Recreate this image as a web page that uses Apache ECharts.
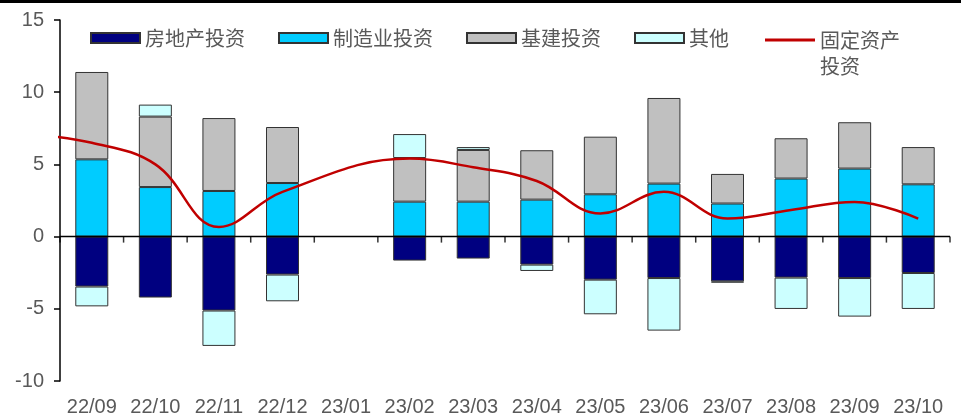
<!DOCTYPE html>
<html>
<head>
<meta charset="utf-8">
<script src="https://cdn.jsdelivr.net/npm/echarts@6/dist/echarts.min.js"></script>
<style>
html,body{margin:0;padding:0;background:#fff;}
#chart{width:961px;height:417px;}
</style>
</head>
<body>
<div id="chart"></div>
<script>
const categories = ['22/09','22/10','22/11','22/12','23/01','23/02','23/03','23/04','23/05','23/06','23/07','23/08','23/09','23/10'];
const realEstate = [-3.46,-4.22,-5.12,-2.63,null,-1.66,-1.52,-1.94,-2.98,-2.87,-3.10,-2.84,-2.87,-2.52];
const manufacturing = [5.35,3.43,3.16,3.71,null,2.42,2.42,2.56,2.93,3.67,2.29,4.02,4.71,3.62];
const infrastructure = [6.05,4.88,5.05,3.88,null,3.02,3.58,3.42,3.99,5.93,2.05,2.79,3.21,2.58];
const others = [-1.37,0.83,-2.45,-1.85,null,1.66,0.20,-0.44,-2.40,-3.64,-0.09,-2.17,-2.67,-2.49];
const fixedAsset = [6.50,5.00,0.67,3.10,null,5.40,4.80,3.85,1.60,3.10,1.25,1.85,2.40,1.25];
const fixedAssetPrior = 7.10; // 22/08, lies left of the plot and is clipped
const yTicks = {min:-10, max:15, step:5};

const names = ['房地产投资','制造业投资','基建投资','其他','固定资产投资'];
const colors = ['#000080','#00CCFF','#C0C0C0','#CCFFFF','#C00000'];

const lineData = [[-1, fixedAssetPrior]].concat(fixedAsset.map((v,i)=>[i, v]));
// category boundaries on the hidden value axis (-0.5 ... n-0.5), used for the zero axis and its ticks
const boundaries = categories.map((c,i)=>i-0.5).concat([categories.length-0.5]);

const labelColor = '#595959';
const barCommon = {type:'bar', stack:'total', barWidth:33, xAxisIndex:0, yAxisIndex:0};

const chart = echarts.init(document.getElementById('chart'), null, {renderer:'canvas'});
chart.setOption({
  animation:false,
  backgroundColor:'#fff',
  tooltip:{show:false},
  graphic:[{type:'rect', left:0, top:0, shape:{width:961, height:3}, style:{fill:'#000'}, silent:true}],
  grid:{left:60, right:11, top:20, bottom:36, containLabel:false},
  legend:[{
    left:90, top:28, padding:0, itemWidth:49, itemHeight:10, itemGap:33, icon:'rect',
    textStyle:{fontSize:20, color:labelColor, fontFamily:'Noto Sans CJK SC'},
    data:names.slice(0,4)
  },{
    left:765, top:1, padding:0, itemWidth:50, itemHeight:3, icon:'rect',
    textStyle:{fontSize:20, lineHeight:26, color:labelColor, fontFamily:'Noto Sans CJK SC'},
    formatter: n => '\n固定资产\n投资',
    data:[names[4]]
  }],
  xAxis:[
    {type:'category', data:categories, position:'bottom', boundaryGap:true,
     axisLine:{show:false, onZero:false}, axisTick:{show:false}, splitLine:{show:false},
     axisLabel:{show:true, interval:0, margin:16, fontSize:20, color:labelColor, fontFamily:'Liberation Sans, Arial'}},
    {type:'value', position:'top', min:-0.5, max:categories.length-0.5, show:false, axisLine:{onZero:false}}
  ],
  yAxis:{type:'value', min:yTicks.min, max:yTicks.max, interval:yTicks.step,
     axisLine:{show:true, onZero:false, lineStyle:{color:'#000', width:1.5}},
     axisTick:{show:true, length:6, lineStyle:{color:'#000', width:1.5}},
     splitLine:{show:false},
     axisLabel:{margin:16, fontSize:20, color:labelColor, fontFamily:'Liberation Sans, Arial'}},
  series:[
    Object.assign({}, barCommon, {name:names[0], data:realEstate, itemStyle:{color:colors[0], borderColor:'#333', borderWidth:1}}),
    Object.assign({}, barCommon, {name:names[1], data:manufacturing, itemStyle:{color:colors[1], borderColor:'#333', borderWidth:1}}),
    Object.assign({}, barCommon, {name:names[2], data:infrastructure, itemStyle:{color:colors[2], borderColor:'#333', borderWidth:1}}),
    Object.assign({}, barCommon, {name:names[3], data:others, itemStyle:{color:colors[3], borderColor:'#333', borderWidth:1}}),
    {name:names[4], type:'line', xAxisIndex:1, yAxisIndex:0, data:lineData, smooth:0.4,
     connectNulls:true, clip:true, showSymbol:false, symbol:'none',
     lineStyle:{color:colors[4], width:2.5}, itemStyle:{color:colors[4]}, z:5},
    {name:'zeroAxis', type:'line', xAxisIndex:1, yAxisIndex:0, silent:true, clip:false,
     data:[[boundaries[0],0],[boundaries[boundaries.length-1],0]],
     showSymbol:false, symbol:'none', lineStyle:{color:'#000', width:1.5}, z:10},
    {name:'zeroTicks', type:'scatter', xAxisIndex:1, yAxisIndex:0, silent:true, clip:false,
     data:boundaries.map(b=>[b,0]), symbol:'rect', symbolSize:[1.5,6], symbolOffset:[0,3],
     itemStyle:{color:'#000'}, z:10}
  ]
});
</script>
</body>
</html>
